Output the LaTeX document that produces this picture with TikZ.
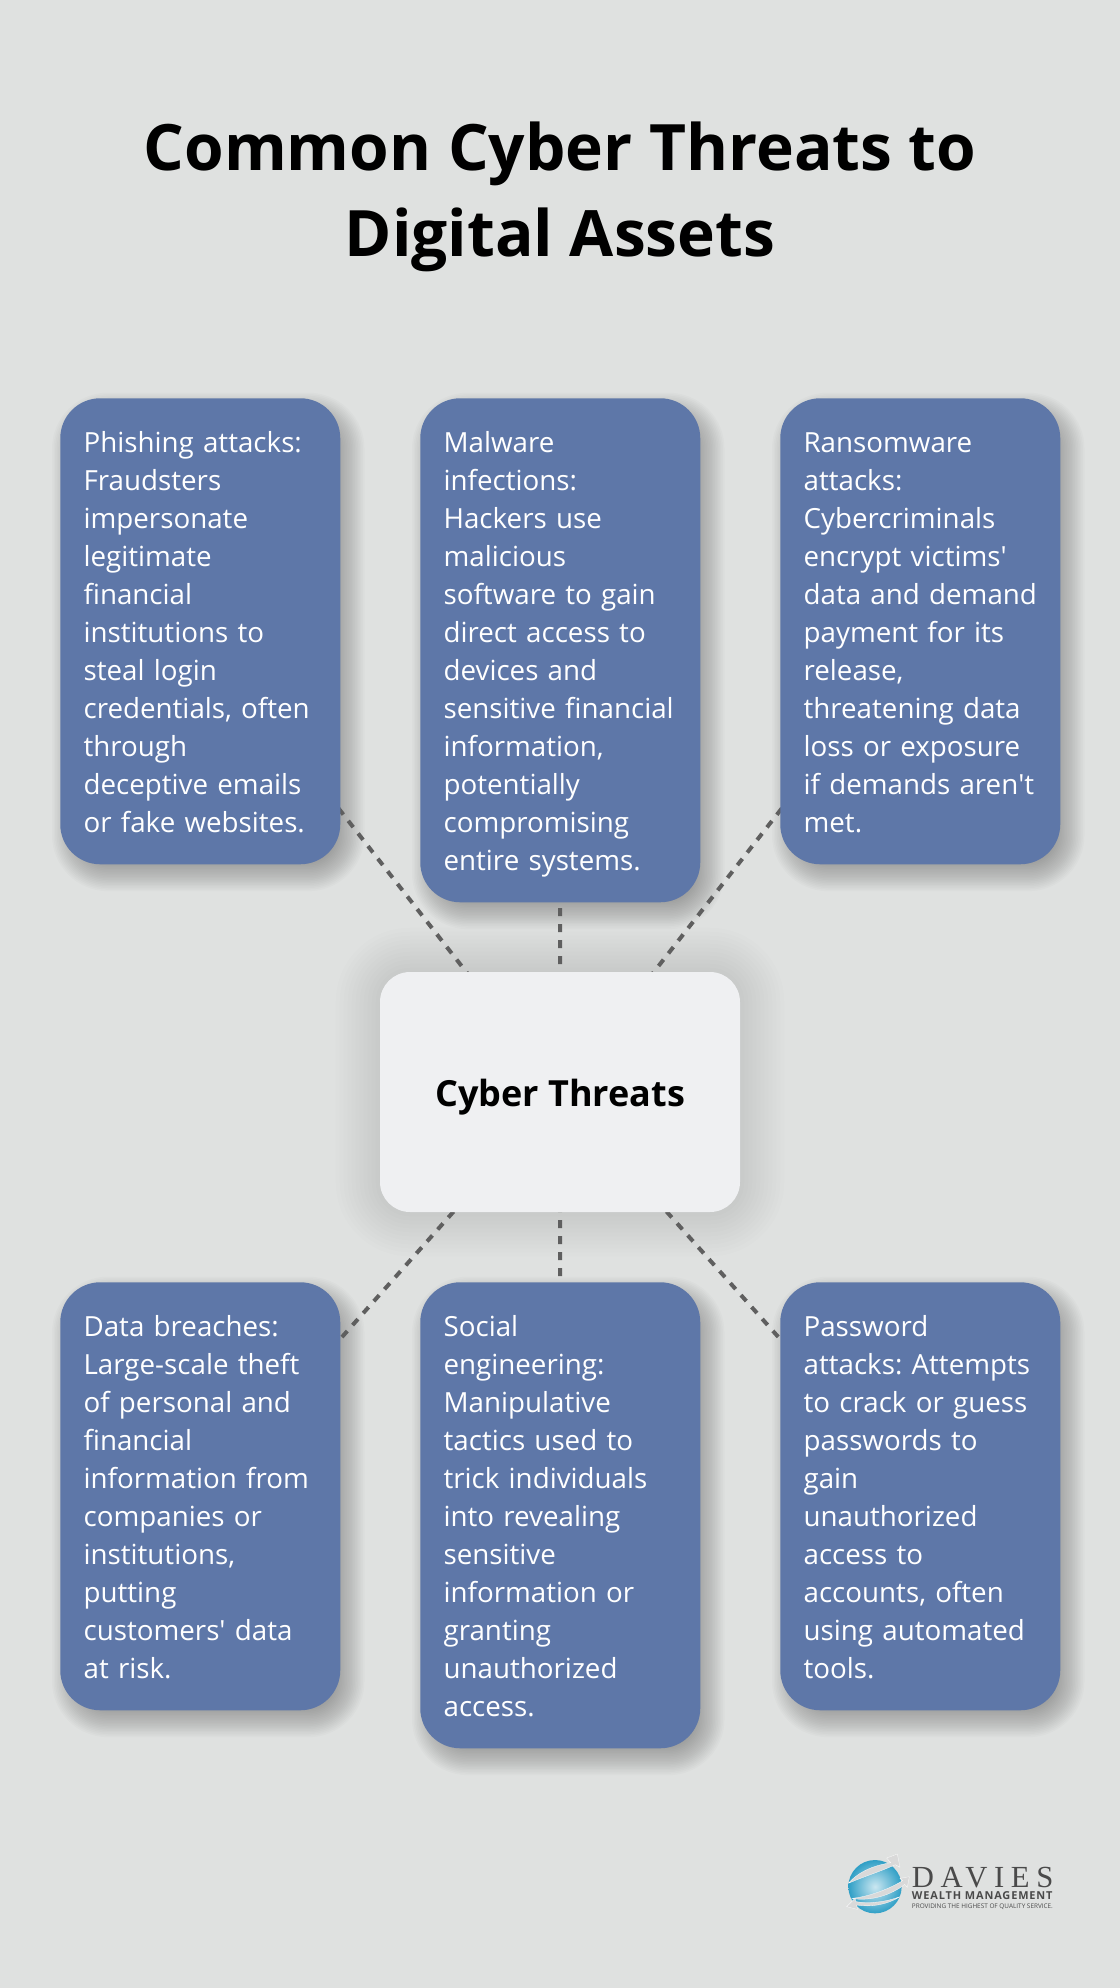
\documentclass[tikz,border=0pt]{standalone}
\usepackage{fontspec}
\setmainfont{Open Sans}
\newfontfamily\logoserif{Liberation Serif}[LetterSpace=21.5]
\newfontfamily\logosans{Open Sans}[LetterSpace=8]
\usetikzlibrary{backgrounds}
\definecolor{pagegrey}{HTML}{DFE1E0}
\definecolor{cardblue}{HTML}{5E77A8}
\definecolor{hubgrey}{HTML}{EFF0F2}
\definecolor{linkgrey}{HTML}{5F5F5F}
\definecolor{logogrey}{HTML}{4A4A4A}
\definecolor{logoblue}{HTML}{2F9FC6}
\newcommand{\cardtop}{\frenchspacing\hyphenpenalty=10000\relax\leavevmode\vrule width 0pt height 22.95pt depth 0pt\relax}
\newcommand{\cardend}{\vrule width 0pt height 0pt depth 5.55pt\relax}
\tikzset{
  card/.style={anchor=north west, fill=cardblue, text=white, rounded corners=30pt, inner xsep=17.5pt, inner ysep=18pt,
    text width=175pt, align=left, font=\fontsize{20.8}{28.5}\selectfont,
    execute at begin node=\cardtop, execute at end node=\cardend},
  hub/.style={fill=hubgrey, rounded corners=22.5pt, minimum width=270pt, minimum height=180pt, inner sep=0pt,
    text height=21pt, text depth=0pt, font=\fontsize{27}{32}\selectfont\bfseries},
  link/.style={draw=linkgrey, line width=3pt, dash pattern=on 6pt off 6pt},
  swoosh/.style={fill=black!15, draw=white, line width=.2pt},
  logotext/.style={anchor=base west, inner sep=0pt, text=logogrey}
}
\begin{document}
\begin{tikzpicture}[x=0.75pt, y=-0.75pt]
    \useasboundingbox (0,0) rectangle (1120,1988);

    \node[align=center, font=\fontsize{48}{64.5}\selectfont\bfseries](title) at (560,197) {Common Cyber Threats to\\Digital Assets};

    \node[card](phishing) at (60,398) {Phishing attacks:\\Fraudsters\\impersonate\\legitimate\\financial\\institutions to\\steal login\\credentials, often\\through\\deceptive emails\\or fake websites.};
    \node[card](malware) at (420,398) {Malware\\infections:\\Hackers use\\malicious\\software to gain\\direct access to\\devices and\\sensitive financial\\information,\\potentially\\compromising\\entire systems.};
    \node[card](ransomware) at (780,398) {Ransomware\\attacks:\\Cybercriminals\\encrypt victims\textquotesingle\\data~and~demand\\payment for its\\release,\\threatening data\\loss or exposure\\if demands aren\textquotesingle t\\met.};
    \node[card](breaches) at (60,1282) {Data breaches:\\Large-scale theft\\of personal and\\financial\\information from\\companies or\\institutions,\\putting\\customers\textquotesingle{} data\\at risk.};
    \node[card](social) at (420,1282) {Social\\engineering:\\Manipulative\\tactics used to\\trick individuals\\into revealing\\sensitive\\information or\\granting\\unauthorized\\access.};
    \node[card](password) at (780,1282) {Password\\attacks: Attempts\\to crack or guess\\passwords to\\gain\\unauthorized\\access to\\accounts, often\\using automated\\tools.};
    \node[hub](threats) at (560,1092) {Cyber Threats};

    \begin{scope}[on background layer]
        \fill[pagegrey] (0,0) rectangle (1120,1988);
        % soft shadows
        \foreach \target in {phishing,malware,ransomware,breaches,social,password}
            \foreach \k in {-10,...,10}
                \fill[black, opacity=.015, rounded corners=30pt+\k*1.2pt] ([xshift=6pt-\k*1.2pt,yshift=-8pt+\k*1.2pt]\target.north west) rectangle ([xshift=6pt+\k*1.2pt,yshift=-8pt-\k*1.2pt]\target.south east);
        \foreach \k in {-4,...,11}
            \fill[black, opacity=.008, rounded corners=22.5pt+\k*3pt] ([xshift=-\k*3pt,yshift=\k*3pt]threats.north west) rectangle ([xshift=\k*3pt,yshift=-\k*3pt]threats.south east);
        \foreach \target in {phishing,malware,ransomware,breaches,social,password}
            \draw[link] (threats.center) -- (\target.center);
    \end{scope}

    % logo
    \begin{scope}[shift={(820,1830)}, x=.25pt, y=-.25pt]
        \shade[inner color=logoblue!25, outer color=logoblue] (165,170) circle (80);
        \fill[swoosh] (85,160) .. controls (120,120) and (170,105) .. (212,98) -- (200,84) -- (232,72) -- (240,112) -- (226,104) .. controls (180,125) and (130,140) .. (85,160);
        \fill[swoosh] (95,205) .. controls (150,200) and (210,175) .. (248,152) -- (240,145) -- (268,140) -- (262,172) -- (254,163) .. controls (215,195) and (150,215) .. (95,205);
        \fill[swoosh] (240,200) .. controls (200,225) and (150,232) .. (110,225) -- (112,238) -- (80,230) -- (105,205) -- (108,215) .. controls (150,222) and (200,215) .. (240,200);
        \node[logotext, font=\fontsize{23}{23}\selectfont\logoserif](davies) at (275,172) {DAVIES};
        \node[logotext, font=\fontsize{8.2}{9}\selectfont\logosans\bfseries](wealth) at (275,207) {WEALTH MANAGEMENT};
        \node[logotext, font=\fontsize{4.8}{5}\selectfont](tagline) at (275,234) {PROVIDING THE HIGHEST OF QUALITY SERVICE.};
    \end{scope}
\end{tikzpicture}
\end{document}
